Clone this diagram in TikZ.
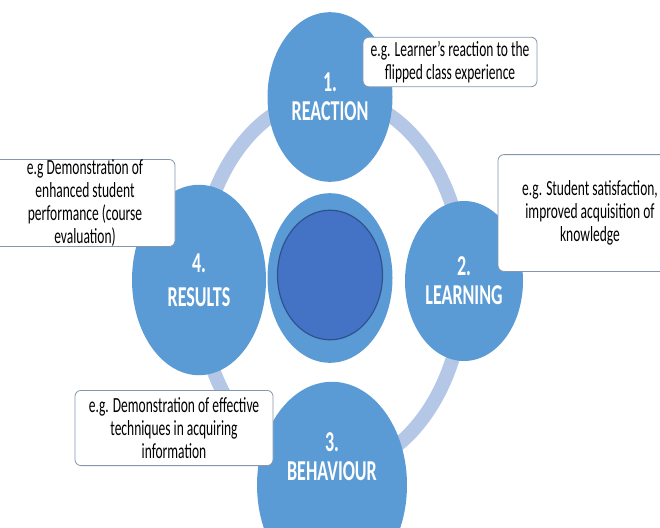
\documentclass[tikz,border=0pt]{standalone}
\usepackage{fontspec}
\setmainfont{Carlito}
\usetikzlibrary{shapes.geometric}

\definecolor{stageblue}{RGB}{91,155,213}
\definecolor{coreblue}{RGB}{68,114,196}
\definecolor{coreedge}{RGB}{47,82,143}
\definecolor{ringblue}{RGB}{180,199,231}
\definecolor{noteedge}{RGB}{132,151,176}

\tikzset{
  tall/.style={yscale=1.6, transform shape},
  stage/.style={tall, ellipse, fill=stageblue, inner sep=0pt},
  stagetext/.style={text=white, align=center, font=\fontsize{18}{18}\selectfont\bfseries},
  note/.style={tall, rectangle, rounded corners=6pt, draw=noteedge, line width=0.8pt,
    fill=white, align=center, inner xsep=1pt, inner ysep=0pt, font=\fontsize{13.5}{14.4}\selectfont}
}

\begin{document}
\begin{tikzpicture}[x=1pt, y=-1pt]
    \clip (0,0) rectangle (660,527);
    % ring behind the four stages
    \draw [ringblue, line width=14pt] (331,283) ellipse [x radius=133pt, y radius=187pt];
    \node [stage, minimum width=125pt, minimum height=106pt] (core) at (330,278) {};
    \node [stage, fill=coreblue, draw=coreedge, line width=1.2pt,
      minimum width=105pt, minimum height=81pt] (coreinner) at (330,275) {};
    \node [stage, stagetext, minimum width=125pt, minimum height=106pt] (reaction) at (330,97) {1.\\REACTION};
    \node [stage, stagetext, minimum width=118pt, minimum height=100pt] (learning) at (464,281) {2.\\LEARNING};
    \node [stage, minimum width=150pt, minimum height=129pt] (behaviour) at (332,485) {};
    \node [tall, stagetext] (behaviourlabel) at (332,457) {3.\\BEHAVIOUR};
    \node [stage, stagetext, minimum width=134pt, minimum height=119pt] (results) at (199,280) {4.\\[3pt]RESULTS};
    % notes
    \node [note, minimum width=174pt, minimum height=31pt] (reactionnote) at (450,62)
      {e.g. Learner's reaction to the\\flipped class experience};
    \node [note, minimum width=184pt, minimum height=73pt] (learningnote) at (590,213)
      {e.g. Student satisfaction,\\improved acquisition of\\knowledge};
    \node [note, minimum width=198pt, minimum height=47pt] (behaviournote) at (174,428)
      {e.g. Demonstration of effective\\techniques in acquiring\\information};
    \node [note, minimum width=180pt, minimum height=53pt] (resultsnote) at (85,203)
      {e.g Demonstration of\\enhanced student\\performance (course\\evaluation)};
\end{tikzpicture}
\end{document}
